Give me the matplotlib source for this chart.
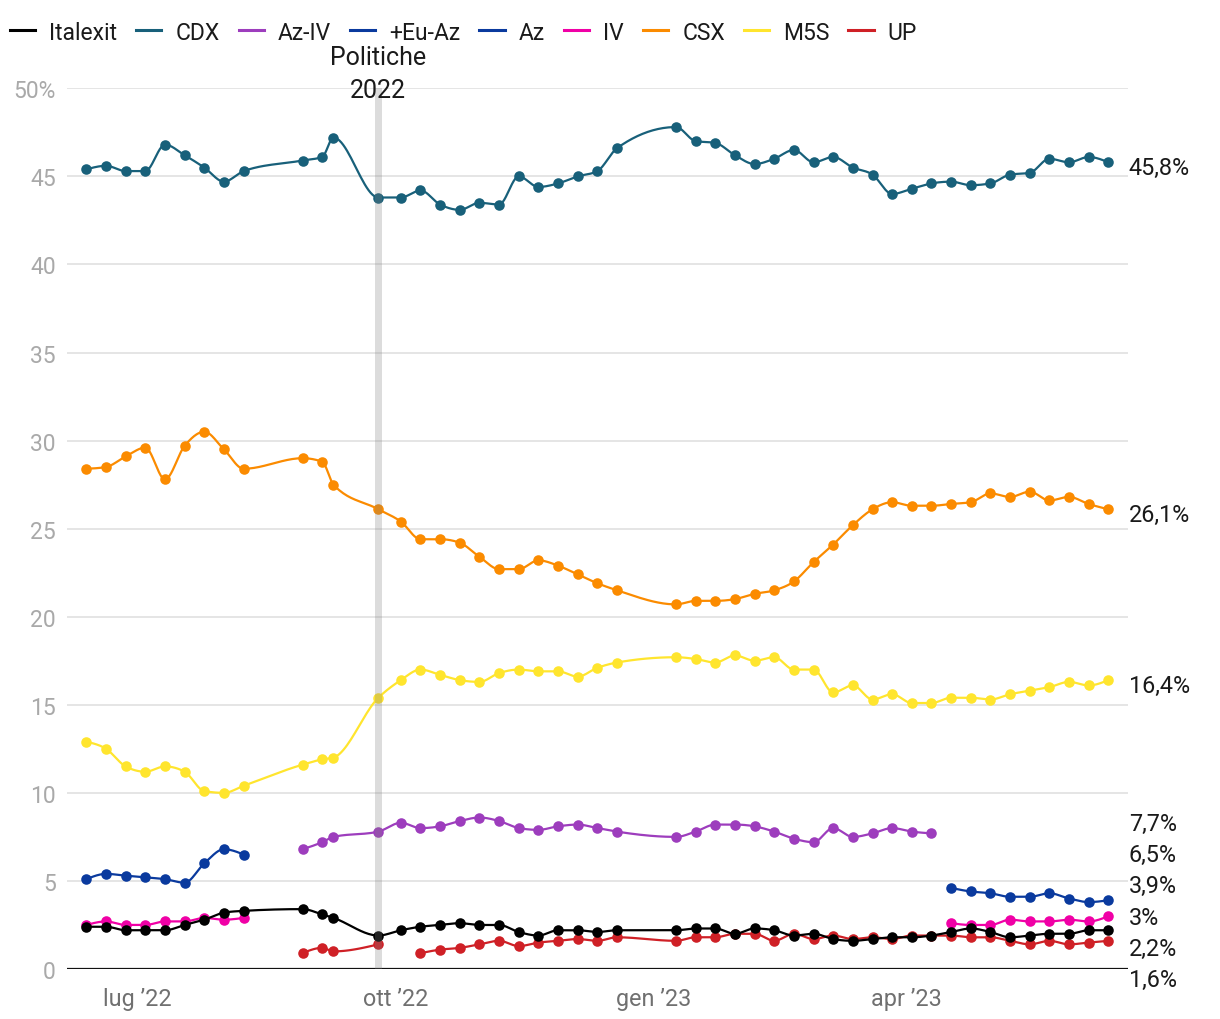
import numpy as np
import pandas as pd
import matplotlib
matplotlib.use("Agg")
import matplotlib.pyplot as plt
import matplotlib.dates as mdates
from matplotlib.lines import Line2D

plt.rcParams['font.family'] = ['Roboto', 'DejaVu Sans']

# ---------------- data ----------------
dates = [
    "2022-06-13", "2022-06-20", "2022-06-27", "2022-07-04", "2022-07-11", "2022-07-18",
    "2022-07-25", "2022-08-01", "2022-08-08",
    "2022-08-29", "2022-09-05", "2022-09-09",
    "2022-09-25",
    "2022-10-03", "2022-10-10", "2022-10-17", "2022-10-24", "2022-10-31", "2022-11-07",
    "2022-11-14", "2022-11-21", "2022-11-28", "2022-12-05", "2022-12-12", "2022-12-19",
    "2023-01-09", "2023-01-16", "2023-01-23", "2023-01-30", "2023-02-06", "2023-02-13",
    "2023-02-20", "2023-02-27", "2023-03-06", "2023-03-13", "2023-03-20", "2023-03-27",
    "2023-04-03", "2023-04-10", "2023-04-17", "2023-04-24", "2023-05-01", "2023-05-08",
    "2023-05-15", "2023-05-22", "2023-05-29", "2023-06-05", "2023-06-12",
]
election_date = "2022-09-25"
election_label = "Politiche\n2022"

N = None
italexit = [2.4, 2.4, 2.2, 2.2, 2.2, 2.5, 2.8, 3.2, 3.3,
            3.4, 3.1, 2.9,
            1.9,
            2.2, 2.4, 2.5, 2.6, 2.5, 2.5, 2.1, 1.9, 2.2, 2.2, 2.1, 2.2,
            2.2, 2.3, 2.3, 2.0, 2.3, 2.2, 1.9, 2.0, 1.7, 1.6, 1.7, 1.8, 1.8, 1.9,
            2.1, 2.3, 2.1, 1.8, 1.9, 2.0, 2.0, 2.2, 2.2]
cdx = [45.4, 45.6, 45.3, 45.3, 46.8, 46.2, 45.5, 44.7, 45.3,
       45.9, 46.1, 47.2,
       43.8,
       43.8, 44.2, 43.4, 43.1, 43.5, 43.4, 45.0, 44.4, 44.6, 45.0, 45.3, 46.6,
       47.8, 47.0, 46.9, 46.2, 45.7, 46.0, 46.5, 45.8, 46.1, 45.5, 45.1, 44.0, 44.3, 44.6,
       44.7, 44.5, 44.6, 45.1, 45.2, 46.0, 45.8, 46.1, 45.8]
az_iv = [N] * 9 + [6.8, 7.2, 7.5,
                   7.8,
                   8.3, 8.0, 8.1, 8.4, 8.6, 8.4, 8.0, 7.9, 8.1, 8.2, 8.0, 7.8,
                   7.5, 7.8, 8.2, 8.2, 8.1, 7.8, 7.4, 7.2, 8.0, 7.5, 7.7, 8.0, 7.8, 7.7] + [N] * 9
eu_az = [N] * 39 + [4.6, 4.4, 4.3, 4.1, 4.1, 4.3, 4.0, 3.8, 3.9]
az = [5.1, 5.4, 5.3, 5.2, 5.1, 4.9, 6.0, 6.8, 6.5] + [N] * 39
iv = [2.5, 2.7, 2.5, 2.5, 2.7, 2.7, 2.9, 2.8, 2.9] + [N] * 30 + \
     [2.6, 2.5, 2.5, 2.8, 2.7, 2.7, 2.8, 2.7, 3.0]
csx = [28.4, 28.5, 29.1, 29.6, 27.8, 29.7, 30.5, 29.5, 28.4,
       29.0, 28.8, 27.5,
       26.1,
       25.4, 24.4, 24.4, 24.2, 23.4, 22.7, 22.7, 23.2, 22.9, 22.4, 21.9, 21.5,
       20.7, 20.9, 20.9, 21.0, 21.3, 21.5, 22.0, 23.1, 24.1, 25.2, 26.1, 26.5, 26.3, 26.3,
       26.4, 26.5, 27.0, 26.8, 27.1, 26.6, 26.8, 26.4, 26.1]
m5s = [12.9, 12.5, 11.5, 11.2, 11.5, 11.2, 10.1, 10.0, 10.4,
       11.6, 11.9, 12.0,
       15.4,
       16.4, 17.0, 16.7, 16.4, 16.3, 16.8, 17.0, 16.9, 16.9, 16.6, 17.1, 17.4,
       17.7, 17.6, 17.4, 17.8, 17.5, 17.7, 17.0, 17.0, 15.7, 16.1, 15.3, 15.6, 15.1, 15.1,
       15.4, 15.4, 15.3, 15.6, 15.8, 16.0, 16.3, 16.1, 16.4]
up = [N] * 9 + [0.9, 1.2, 1.0,
                1.4,
                N, 0.9, 1.1, 1.2, 1.4, 1.6, 1.3, 1.5, 1.6, 1.7, 1.6, 1.8,
                1.6, 1.8, 1.8, 2.0, 2.0, 1.6, 2.0, 1.7, 1.9, 1.7, 1.8, 1.7, 1.9, 1.9,
                1.9, 1.8, 1.8, 1.6, 1.4, 1.6, 1.4, 1.5, 1.6]

series_names = ["Italexit", "CDX", "Az-IV", "+Eu-Az", "Az", "IV", "CSX", "M5S", "UP"]
series_values = [italexit, cdx, az_iv, eu_az, az, iv, csx, m5s, up]
series_colors = ["#000000", "#18607a", "#9d3dbd", "#0a3a9e", "#0a3a9e",
                 "#f000a6", "#fb8b00", "#ffe52e", "#cf2026"]

xtick_dates = ["2022-07-01", "2022-10-01", "2023-01-01", "2023-04-01"]
xtick_labels = ["lug \u201922", "ott \u201922", "gen \u201923", "apr \u201923"]
yticks = [0, 5, 10, 15, 20, 25, 30, 35, 40, 45, 50]
ytick_labels = ["0", "5", "10", "15", "20", "25", "30", "35", "40", "45", "50%"]


# ---------------- helpers ----------------
def monotone_x(x, y, n=24):
    """d3 curveMonotoneX rendering of a polyline."""
    x = np.asarray(x, float)
    y = np.asarray(y, float)
    m = len(x)
    if m < 3:
        return x, y
    h = np.diff(x)
    s = np.diff(y) / h
    t = np.zeros(m)
    for i in range(1, m - 1):
        h0, h1 = h[i - 1], h[i]
        s0, s1 = s[i - 1], s[i]
        p = (s0 * h1 + s1 * h0) / (h0 + h1)
        t[i] = (np.sign(s0) + np.sign(s1)) * min(abs(s0), abs(s1), 0.5 * abs(p))
    t[0] = (3 * s[0] - t[1]) / 2
    t[-1] = (3 * s[-1] - t[-2]) / 2
    xs, ys = [], []
    u = np.linspace(0, 1, n)
    for i in range(m - 1):
        dx = h[i]
        h00 = 2 * u**3 - 3 * u**2 + 1
        h10 = u**3 - 2 * u**2 + u
        h01 = -2 * u**3 + 3 * u**2
        h11 = u**3 - u**2
        yy = h00 * y[i] + h10 * dx * t[i] + h01 * y[i + 1] + h11 * dx * t[i + 1]
        xx = x[i] + u * dx
        if i > 0:
            xx, yy = xx[1:], yy[1:]
        xs.append(xx)
        ys.append(yy)
    return np.concatenate(xs), np.concatenate(ys)


def runs(vals):
    out, cur = [], []
    for i, v in enumerate(vals):
        if v is None:
            if cur:
                out.append(cur)
            cur = []
        else:
            cur.append(i)
    if cur:
        out.append(cur)
    return out


def fmt(v):
    s = f"{v:.1f}"
    if s.endswith(".0"):
        s = s[:-2]
    return s.replace(".", ",") + "%"


# ---------------- figure ----------------
fig = plt.figure(figsize=(12.2, 10.2), dpi=100)
ax = fig.add_axes([67 / 1220, 1 - 970 / 1020, (1128 - 67) / 1220, (970 - 89.3) / 1020])

xd = mdates.date2num(pd.to_datetime(dates))
t0 = mdates.date2num(pd.Timestamp("2022-07-01"))
ax.set_xlim(t0 - 24.9, t0 + 353.0)
ax.set_ylim(0, 50)

for s in ax.spines.values():
    s.set_visible(False)
for yv in yticks[1:]:
    ax.axhline(yv, color="#e3e3e3", lw=1.3, zorder=0)
ax.axhline(0, color="#111111", lw=1.6, zorder=1)

ax.set_yticks(yticks)
ax.set_yticklabels(ytick_labels)
ax.set_xticks(mdates.date2num(pd.to_datetime(xtick_dates)))
ax.set_xticklabels(xtick_labels)
ax.tick_params(axis="y", length=0, pad=8, labelsize=16.5, labelcolor="#a9a9a9")
ax.tick_params(axis="x", length=0, pad=13, labelsize=16.8, labelcolor="#707070")

# series (draw in reverse so the first legend item is on top)
order = list(range(len(series_names)))[::-1]
for k in order:
    vals, col = series_values[k], series_colors[k]
    for r in runs(vals):
        xx = xd[r]
        yy = np.array([vals[i] for i in r], float)
        cx, cy = monotone_x(xx, yy)
        ax.plot(cx, cy, color=col, lw=1.6, zorder=3 + (len(order) - k) * 0.1,
                solid_capstyle="round", clip_on=False)
        ax.plot(xx, yy, "o", color=col, ms=7.6, mew=0, zorder=3.05 + (len(order) - k) * 0.1,
                clip_on=False)

# election band + label
ed = mdates.date2num(pd.Timestamp(election_date))
ax.axvspan(ed - 1.25, ed + 1.25, color="#808080", alpha=0.27, lw=0, zorder=10)
ax.annotate(election_label, xy=(ed, 50), xycoords="data", xytext=(0, -10),
            textcoords="offset points", ha="center", va="bottom", fontsize=18,
            color="#1a1a1a", linespacing=1.5, zorder=11, annotation_clip=False)

# right labels with simple repel
last = []
for vals in series_values:
    v = [x for x in vals if x is not None][-1]
    last.append(v)
pos = sorted(range(len(last)), key=lambda i: -last[i])
gap = 1.78
clusters = [[i] for i in pos]
changed = True
while changed:
    changed = False
    placed = []
    for c in clusters:
        mean = np.mean([last[i] for i in c])
        top = mean + gap * (len(c) - 1) / 2
        placed.append((c, top))
    for j in range(len(placed) - 1):
        c1, top1 = placed[j]
        c2, top2 = placed[j + 1]
        bottom1 = top1 - gap * (len(c1) - 1)
        if bottom1 - top2 < gap:
            clusters = clusters[:j] + [c1 + c2] + clusters[j + 2:]
            changed = True
            break
label_y = {}
for c in clusters:
    mean = np.mean([last[i] for i in c])
    top = mean + gap * (len(c) - 1) / 2
    for n_, i in enumerate(c):
        label_y[i] = top - gap * n_
for i, v in enumerate(last):
    ax.annotate(fmt(v), xy=(1.0, label_y[i]), xycoords=("axes fraction", "data"),
                xytext=(0.5, -4), textcoords="offset points", ha="left", va="center",
                fontsize=16.8, color="#1a1a1a", annotation_clip=False)

# legend
handles = [Line2D([0], [0], color=c, lw=2.2) for c in series_colors]
fig.legend(handles, series_names, loc="center left", bbox_to_anchor=(10 / 1220, 1 - 33 / 1020),
           ncol=len(series_names), frameon=False, fontsize=16.5, handlelength=1.1,
           handletextpad=0.62, columnspacing=0.82, borderpad=0, borderaxespad=0,
           labelcolor="#1a1a1a")

fig.savefig("out.png", dpi=100, facecolor="white")
